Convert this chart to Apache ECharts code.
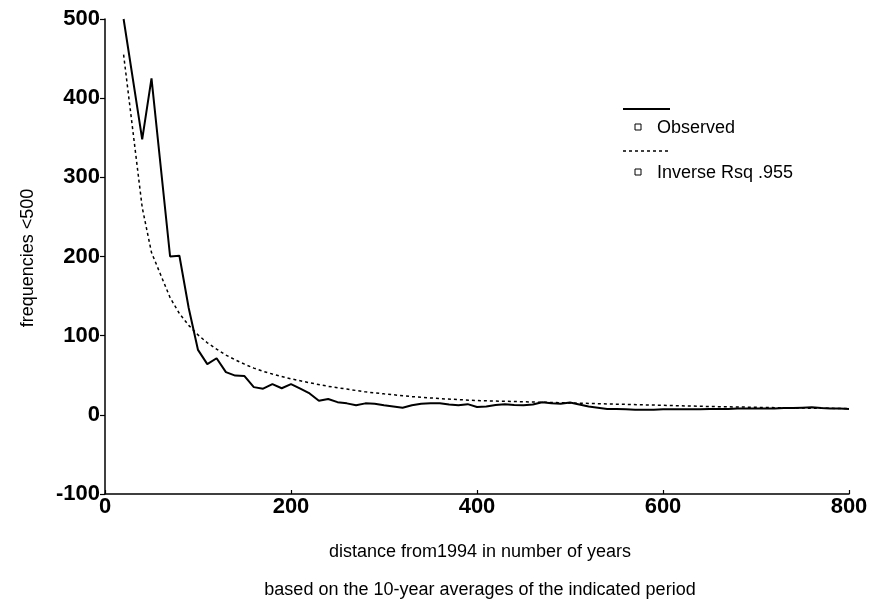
<!DOCTYPE html>
<html>
<head>
<meta charset="utf-8">
<script src="https://cdn.jsdelivr.net/npm/echarts@6/dist/echarts.min.js"></script>
<style>
html,body{margin:0;padding:0;background:#fff;}
#chart{width:872px;height:607px;}
</style>
</head>
<body>
<div id="chart"></div>
<script>
// Observed series (10-year averages)
const obsX = [20,40,50,70,80,90,100,110,120,130,140,150,160,170,180,190,200,210,220,230,240,250,260,270,280,290,300,310,320,330,340,350,360,370,380,390,400,410,420,430,440,450,460,470,480,490,500,510,520,530,540,550,560,570,580,590,600,610,620,630,640,650,660,670,680,690,700,710,720,730,740,750,760,770,780,790,800];
const obsY = [500,348,425,200,201,135,82,64,71.5,54,49.6,49,35,33,38.7,33.6,38.7,33,27,17.7,20,16,14.5,12,14.5,14,12,10.5,9,12,14,14.5,14.5,13,12,13.5,10,10.5,12.5,13.5,12.5,12,13,16,14.5,14,15.5,13,10.5,9,7.5,7.5,7,6.5,6.5,6.5,7,7,7,7,7,7.5,7.5,7.5,8,8,8,8,8,8.5,8.5,9,9.5,8.5,8,8,7.5];
// Inverse fit (Rsq .955)
const fitX = [20,40,50,70,80,90,100,110,120,130,140,150,160,170,180,190,200,220,240,260,280,300,330,360,400,450,500,550,600,650,700,750,800];
const fitY = [455,262,205,148,128,113,101,91,83,75.5,69.5,64,59,55,51.5,48.5,45.5,40.5,36,32.5,29,26.5,23,20.5,18,16.5,15,13.5,12,10.5,9.5,8.5,8];
const yTicks = [-100,0,100,200,300,400,500];
const xTicks = [0,200,400,600,800];

const pairs = (xs, ys) => xs.map((x, i) => [x, ys[i]]);
const font = '"Liberation Sans", Arial, sans-serif';

const chart = echarts.init(document.getElementById('chart'), null, {renderer: 'canvas'});
chart.setOption({
  animation: false,
  backgroundColor: '#ffffff',
  grid: {left: 105, right: 23, top: 19, bottom: 113, containLabel: false},
  xAxis: {
    type: 'value', min: xTicks[0], max: xTicks[xTicks.length - 1], interval: 200,
    axisLine: {show: true, onZero: false, lineStyle: {color: '#000', width: 1.5}},
    axisTick: {show: true, inside: true, length: 4, lineStyle: {color: '#000', width: 1.2}},
    axisLabel: {color: '#000', fontFamily: font, fontSize: 22, fontWeight: 'bold', margin: 2},
    splitLine: {show: false}
  },
  yAxis: {
    type: 'value', min: yTicks[0], max: yTicks[yTicks.length - 1], interval: 100,
    axisLine: {show: true, onZero: false, lineStyle: {color: '#000', width: 1.5}},
    axisTick: {show: true, length: 5, lineStyle: {color: '#000', width: 1.2}},
    axisLabel: {color: '#000', fontFamily: font, fontSize: 22, fontWeight: 'bold', margin: 5},
    splitLine: {show: false}
  },
  series: [
    {
      name: 'Inverse Rsq .955', type: 'line', data: pairs(fitX, fitY), symbol: 'none',
      lineStyle: {color: '#000', width: 1.5, type: [3, 3]}, z: 2
    },
    {
      name: 'Observed', type: 'line', data: pairs(obsX, obsY), symbol: 'none',
      lineStyle: {color: '#000', width: 2}, z: 3
    }
  ],
  graphic: [
    {type: 'text', x: 28, y: 258, rotation: Math.PI / 2,
     style: {x: 0, y: 0, text: 'frequencies <500', font: '500 18px ' + font, fill: '#000', textAlign: 'center', textVerticalAlign: 'middle'}},
    {type: 'text', style: {x: 480, y: 552, text: 'distance from1994 in number of years', font: '500 18px ' + font, fill: '#000', textAlign: 'center', textVerticalAlign: 'middle'}},
    {type: 'text', style: {x: 480, y: 590, text: 'based on the 10-year averages of the indicated period', font: '500 18px ' + font, fill: '#000', textAlign: 'center', textVerticalAlign: 'middle'}},
    {type: 'line', shape: {x1: 623, y1: 109, x2: 670, y2: 109}, style: {stroke: '#000', lineWidth: 2}},
    {type: 'rect', shape: {x: 635, y: 124, width: 6, height: 6}, style: {stroke: '#000', fill: '#fff', lineWidth: 1}},
    {type: 'text', style: {x: 657, y: 128, text: 'Observed', font: '500 18px ' + font, fill: '#000', textVerticalAlign: 'middle'}},
    {type: 'line', shape: {x1: 623, y1: 151, x2: 670, y2: 151}, style: {stroke: '#000', lineWidth: 1.5, lineDash: [3, 3]}},
    {type: 'rect', shape: {x: 635, y: 169, width: 6, height: 6}, style: {stroke: '#000', fill: '#fff', lineWidth: 1}},
    {type: 'text', style: {x: 657, y: 173, text: 'Inverse Rsq .955', font: '500 18px ' + font, fill: '#000', textVerticalAlign: 'middle'}}
  ]
});
</script>
</body>
</html>
